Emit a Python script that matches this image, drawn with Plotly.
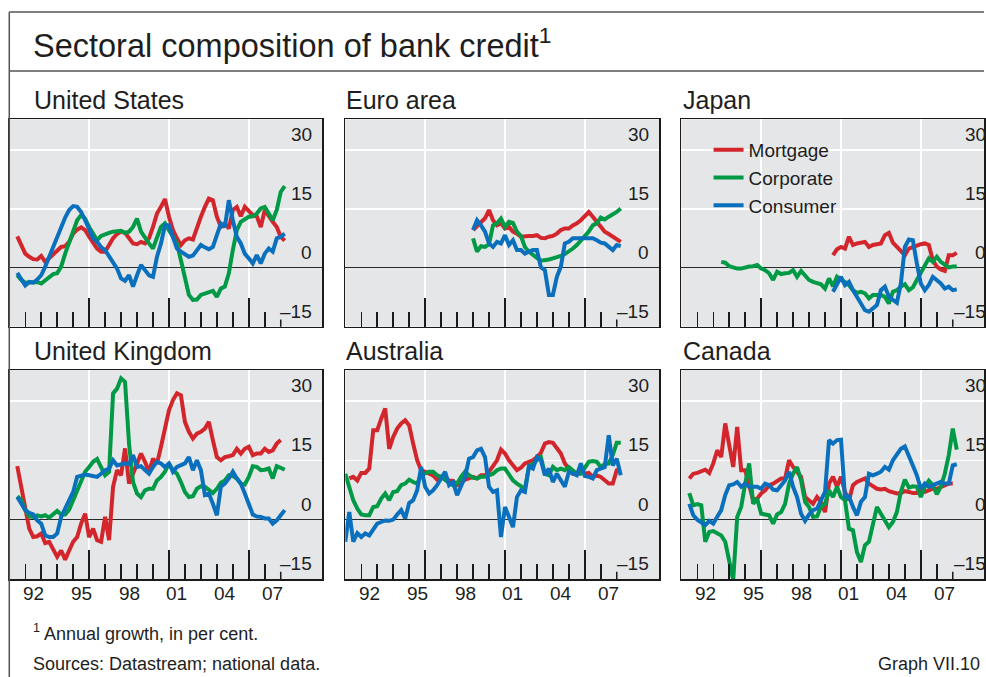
import plotly.graph_objects as go

# ---------------- data (annual growth, %; quarterly observations) ----------------
us_mortgage_start = "1991Q3"
us_mortgage = [8.0, 5.8, 3.6, 2.8, 2.2, 2.1, 3.0, 1.5, 2.4, 3.6, 4.5, 5.3, 5.5, 6.6, 8.7, 9.7, 10.3, 9.6,
               7.9, 6.4, 4.9, 4.1, 4.1, 5.8, 7.5, 8.6, 9.2, 8.9, 7.5, 6.2, 6.0, 6.6, 6.2, 7.5, 10.4, 13.8,
               15.5, 17.5, 13.0, 9.6, 7.5, 5.8, 7.0, 7.5, 7.2, 10.4, 13.0, 15.5, 17.6, 17.2, 13.0, 10.4,
               11.3, 10.0, 14.7, 15.5, 13.1, 15.5, 14.5, 13.4, 13.1, 10.4, 14.7, 13.0, 11.7, 10.4, 7.9, 6.9]
us_corporate_start = "1991Q3"
us_corporate = [-1.9, -3.1, -3.8, -3.8, -3.6, -3.6, -4.0, -3.1, -2.3, -1.6, -1.4, 0.3, 3.6, 6.6, 9.6, 12.1,
                13.4, 12.5, 10.4, 8.7, 7.0, 8.1, 8.6, 8.9, 9.2, 9.2, 9.4, 8.9, 9.2, 10.4, 12.5, 9.2, 7.5,
                6.2, 4.9, 7.5, 10.4, 11.3, 9.6, 7.9, 6.2, 1.9, -3.1, -6.9, -8.2, -8.1, -6.9, -6.5, -6.1,
                -5.9, -7.4, -5.3, -4.8, -1.4, 4.5, 9.6, 11.7, 12.5, 13.0, 13.1, 13.8, 15.1, 15.5, 13.8,
                12.1, 14.7, 19.3, 20.8]
us_consumer_start = "1991Q3"
us_consumer = [-1.3, -2.7, -4.5, -3.6, -3.8, -3.0, -1.9, 0.3, 2.8, 5.3, 8.3, 10.4, 12.8, 14.7, 15.7, 15.5,
               14.2, 12.1, 10.0, 7.5, 6.6, 5.3, 4.5, 2.8, 1.5, -0.2, -2.7, -3.3, -1.9, -4.8, -1.9, 0.7,
               -0.6, -1.9, -2.3, 2.8, 6.2, 10.8, 10.8, 7.5, 4.9, 4.1, 3.5, 2.8, 3.1, 4.5, 5.8, 5.2, 4.7,
               5.3, 8.3, 11.3, 10.4, 17.2, 12.1, 7.9, 6.2, 3.6, 2.4, 1.1, 3.2, 1.1, 3.6, 4.9, 4.1, 7.5,
               7.9, 8.7]

ea_start = "1999Q1"
ea_mortgage = [9.6, 10.5, 11.5, 12.6, 14.7, 12.1, 10.8, 11.3, 10.0, 10.4, 9.2, 8.7, 7.9, 8.1, 8.1, 8.1,
               8.3, 7.6, 7.5, 7.9, 8.1, 8.7, 9.6, 10.0, 10.0, 10.8, 11.3, 12.1, 13.1, 14.2, 13.0, 11.7,
               10.4, 9.2, 8.6, 7.9, 7.2, 6.6]
ea_corporate = [7.5, 4.1, 5.5, 5.3, 6.0, 10.8, 11.3, 12.5, 10.4, 11.7, 11.4, 9.2, 8.1, 5.3, 4.1, 3.2,
                2.5, 1.8, 1.9, 2.1, 2.4, 2.6, 3.0, 3.5, 4.1, 4.9, 5.8, 6.9, 7.9, 9.2, 10.8, 11.3, 12.8,
                12.3, 13.0, 13.6, 14.2, 15.1]
ea_consumer = [9.6, 12.1, 10.8, 9.2, 6.2, 5.3, 6.6, 6.2, 8.3, 5.8, 7.0, 4.5, 4.5, 3.6, 4.1, 4.5, 4.5,
               0.1, -0.6, -6.9, -6.9, -2.3, 0.3, 6.2, 6.6, 7.5, 7.5, 7.5, 7.5, 7.6, 7.5, 7.0, 6.4, 6.2,
               5.2, 4.5, 5.8, 5.5]

jp_mortgage_start = "2000Q3"
jp_mortgage = [3.2, 4.7, 5.3, 4.9, 7.9, 5.8, 6.2, 6.4, 6.6, 5.3, 5.8, 6.0, 6.2, 8.3, 8.9, 6.4, 5.3, 4.1,
               3.2, 4.9, 5.3, 5.8, 6.0, 6.2, 5.8, 1.9, 0.3, -0.4, -0.8, 3.2, 3.2, 3.8]
jp_corporate_start = "1993Q3"
jp_corporate = [1.5, 1.3, 0.4, 0.0, -0.2, -0.2, 0.1, 0.3, 0.4, 0.7, -0.2, -0.6, -1.4, -3.1, -1.0, -1.6,
                -1.4, -1.3, -0.6, -2.3, -0.8, -1.9, -3.1, -3.6, -4.0, -4.2, -5.3, -2.7, -4.7, -2.3, -3.1,
                -3.6, -4.4, -5.7, -6.4, -6.1, -6.5, -7.8, -6.9, -6.9, -6.9, -7.4, -9.1, -6.1, -5.7, -4.8,
                -4.2, -5.7, -5.0, -3.1, -1.4, 0.7, 2.4, 1.5, 2.8, 1.5, 0.9, 0.1, 0.3, 0.3]
jp_consumer_start = "2000Q3"
jp_consumer = [-6.1, -4.0, -2.3, -4.4, -3.6, -5.7, -7.4, -9.1, -10.8, -11.2, -10.3, -9.5, -5.7, -4.8,
               -7.4, -8.2, -8.9, -4.0, 5.3, 7.2, 7.0, 1.1, -4.0, -5.7, -4.4, -2.3, -3.1, -4.0, -5.3, -4.8,
               -5.7, -5.5]

uk_start = "1991Q3"
uk_mortgage = [13.5, 8.3, 2.4, -2.3, -4.4, -4.2, -3.5, -5.9, -5.6, -7.3, -9.4, -7.8, -10.1, -7.8, -5.6,
               -4.4, -1.0, 1.5, -4.4, -2.3, -5.2, -5.6, 0.7, -5.2, 8.3, 12.5, 11.2, 18.0, 9.1, 11.6, 14.2,
               16.7, 14.6, 12.1, 15.4, 14.2, 18.4, 22.6, 27.6, 30.2, 31.9, 31.4, 24.7, 22.2, 20.5, 21.7,
               22.2, 23.0, 24.7, 20.1, 15.8, 15.0, 15.8, 16.0, 16.3, 17.9, 16.7, 17.9, 18.4, 16.3, 16.7,
               16.7, 17.9, 17.1, 17.5, 19.2, 20.1]
uk_corporate = [5.9, 4.9, 2.4, 0.8, 0.7, 1.1, 0.8, 1.1, 0.5, 1.5, 2.2, 1.3, 1.3, 2.5, 4.9, 7.0, 9.5,
                12.1, 13.3, 14.6, 15.3, 13.3, 11.2, 12.1, 31.9, 33.1, 35.7, 34.8, 19.2, 9.5, 6.6, 5.7,
                7.4, 7.8, 7.8, 9.9, 10.8, 12.1, 14.2, 12.5, 11.6, 9.5, 7.0, 5.7, 5.9, 7.8, 8.4, 8.3, 7.4,
                6.7, 7.8, 9.3, 9.9, 11.2, 11.0, 10.4, 9.1, 8.9, 10.8, 13.5, 13.3, 12.5, 12.6, 12.9, 10.4,
                13.5, 13.1, 12.6]
uk_consumer = [5.7, 4.0, 2.4, 1.7, 1.3, -0.2, -1.0, -4.0, -4.4, -4.4, -3.5, 0.7, 2.8, 4.5, 7.0, 10.8,
               11.2, 11.4, 11.2, 11.0, 10.8, 11.6, 12.5, 12.9, 15.0, 13.7, 14.0, 14.2, 14.0, 16.3, 13.3,
               13.5, 12.5, 11.6, 13.3, 14.6, 14.2, 13.3, 14.2, 12.1, 13.3, 13.7, 14.2, 15.8, 12.5, 15.0,
               12.5, 6.2, 6.6, 4.0, 1.1, 8.3, 9.1, 10.4, 12.1, 10.4, 9.1, 6.6, 4.0, 1.3, 0.8, 0.7, 0.3,
               0.3, -1.0, -0.2, 1.1, 2.4]

au_mortgage_start = "1991Q2"
au_mortgage = [10.4, 10.8, 9.9, 11.8, 11.8, 12.9, 22.6, 22.6, 25.5, 28.1, 17.9, 20.9, 23.0, 24.3, 25.1,
               23.8, 19.2, 15.0, 12.5, 12.1, 11.6, 11.2, 10.1, 10.8, 10.4, 9.9, 9.8, 8.7, 9.3, 10.1,
               10.4, 10.8, 10.4, 11.2, 11.2, 12.1, 13.5, 15.0, 17.7, 16.7, 15.0, 13.7, 12.5, 13.1, 14.2,
               14.6, 15.0, 15.8, 16.9, 19.2, 19.6, 19.4, 18.2, 16.7, 14.2, 12.9, 11.6, 11.8, 12.5, 11.6,
               11.8, 10.8, 11.2, 10.8, 9.9, 9.1, 9.1, 12.5, 12.9]
au_start = "1991Q1"
au_corporate = [11.6, 8.3, 4.9, 2.8, 1.3, 1.1, 1.1, 3.2, 3.4, 5.3, 6.6, 4.9, 7.0, 7.2, 8.7, 9.1, 10.1,
                9.5, 9.1, 11.2, 11.6, 12.1, 12.1, 11.2, 10.8, 9.9, 9.3, 8.7, 9.1, 10.8, 12.1, 11.2, 10.6,
                10.4, 10.8, 10.8, 11.2, 11.6, 12.5, 12.9, 12.9, 11.2, 9.9, 9.1, 8.3, 7.8, 13.3, 14.2,
                15.0, 15.8, 11.6, 11.2, 13.3, 12.5, 12.9, 12.5, 13.3, 12.5, 11.6, 11.6, 13.3, 14.6, 14.8,
                14.6, 13.3, 14.0, 14.2, 16.3, 19.4, 19.4]
au_consumer = [-5.6, 1.9, -5.6, -3.4, -4.4, -3.5, -4.0, -2.7, -1.0, -0.6, -0.2, -0.3, 0.0, 1.3, 2.4, 0.3,
               4.2, 4.9, 7.4, 13.3, 8.3, 6.6, 7.4, 8.7, 10.4, 12.1, 8.7, 9.5, 6.2, 8.7, 10.8, 15.4, 15.8,
               17.5, 17.9, 15.8, 8.3, 7.0, 7.4, -4.4, 3.2, 0.7, -1.9, 5.7, 7.4, 7.0, 13.5, 12.9, 15.8,
               15.0, 11.2, 12.9, 9.5, 11.6, 9.9, 8.3, 12.1, 11.6, 11.2, 14.2, 11.0, 10.8, 10.4, 12.5,
               12.9, 13.3, 21.3, 13.7, 15.4, 11.2]

ca_start = "1991Q3"
ca_mortgage = [10.4, 11.6, 11.8, 12.3, 12.6, 11.8, 14.2, 17.5, 15.8, 24.3, 19.2, 13.3, 23.4, 12.5, 12.5,
               8.7, 4.9, 5.3, 6.6, 7.4, 8.7, 9.1, 9.9, 10.4, 10.4, 15.0, 13.3, 12.1, 10.8, 5.7, 4.9, 4.0,
               5.7, 4.5, 1.9, 9.1, 10.8, 8.3, 10.8, 7.0, 4.9, 8.7, 9.5, 9.9, 10.4, 9.1, 8.3, 7.8, 7.6,
               7.8, 7.2, 7.0, 6.6, 6.7, 7.2, 7.0, 6.7, 6.7, 7.2, 7.0, 7.4, 7.8, 7.8, 8.3, 8.7, 9.1, 9.1]
ca_corporate = [6.7, 3.6, 3.9, 3.6, -5.6, -3.1, -2.9, -3.5, -4.0, -5.6, -10.3, -15.3, 0.7, 3.2, 9.1,
                14.2, 4.0, 5.3, 1.5, 1.3, 1.1, -1.0, 1.3, 1.9, 4.0, 9.1, 11.6, 13.3, 9.9, 4.5, 3.2, 0.7,
                0.8, 3.2, 4.0, 7.4, 5.7, 8.3, 5.7, 4.9, -2.3, -2.7, -8.2, -10.7, -6.5, -5.6, -1.4, 3.2,
                1.5, -0.2, -1.9, -0.6, 1.9, 7.0, 10.1, 8.1, 8.4, 8.3, 5.7, 8.3, 9.8, 8.7, 6.4, 8.3, 11.6,
                16.3, 23.0, 17.7]
ca_consumer = [4.0, 1.1, 0.0, -0.6, -1.4, -0.3, -1.0, 0.7, 2.4, 6.2, 8.7, 8.9, 9.5, 8.3, 9.1, 8.3, 8.4,
               8.3, 7.8, 9.1, 8.7, 7.6, 7.4, 8.7, 9.9, 12.1, 8.3, 5.7, 1.5, -0.3, 1.3, 2.4, 2.8, 4.9, 7.0,
               20.1, 19.2, 20.1, 20.2, 5.7, 5.9, 3.2, 1.1, 4.5, 5.7, 11.6, 11.2, 11.6, 12.1, 13.3, 12.6,
               15.0, 16.3, 17.9, 18.5, 15.8, 13.7, 11.2, 7.8, 9.1, 8.3, 8.7, 9.1, 9.5, 9.1, 9.1, 13.7,
               14.0]

panel_titles = ["United States", "Euro area", "Japan", "United Kingdom", "Australia", "Canada"]
series_names = ["Mortgage", "Corporate", "Consumer"]
x_tick_years = [1992, 1995, 1998, 2001, 2004, 2007]
x_tick_text = ["92", "95", "98", "01", "04", "07"]
y_tick_vals = [30, 15, 0, -15]
y_tick_text = ["30", "15", "0", "–15"]

# ---------------- helpers ----------------
def quarterly_dates(start, n):
    yr, q = start.split("Q")
    base = int(yr) + (int(q) - 1) / 4
    return [base + i / 4 for i in range(n)]

panels = [
    [(us_mortgage_start, us_mortgage), (us_corporate_start, us_corporate), (us_consumer_start, us_consumer)],
    [(ea_start, ea_mortgage), (ea_start, ea_corporate), (ea_start, ea_consumer)],
    [(jp_mortgage_start, jp_mortgage), (jp_corporate_start, jp_corporate), (jp_consumer_start, jp_consumer)],
    [(uk_start, uk_mortgage), (uk_start, uk_corporate), (uk_start, uk_consumer)],
    [(au_mortgage_start, au_mortgage), (au_start, au_corporate), (au_start, au_consumer)],
    [(ca_start, ca_mortgage), (ca_start, ca_corporate), (ca_start, ca_consumer)],
]
colors = ["#d3252c", "#009a46", "#0a70bd"]

W, H = 986, 677
FONT = "Liberation Sans"
TXT = "#1e1e1e"
AX = "#1a1a1a"

def px_x(v):
    return v / W

def px_y(v):
    return 1 - v / H

col_px = [(9.3, 323.0), (346.0, 660.7), (682.7, 986.0)]
title_px = [33, 346, 683]
row_px = [(119.3, 326.7), (370.0, 579.0)]
PX_PER_YEAR = 16.0
major_years = [1996, 2001, 2006]
minor_years = [y for y in range(1992, 2008) if y not in major_years]
last_tick_year = 2008

fig = go.Figure()
layout = dict(
    width=W, height=H, autosize=False,
    margin=dict(l=0, r=0, t=0, b=0),
    paper_bgcolor="white", plot_bgcolor="#e5e6e7",
    font=dict(family=FONT, color=TXT, size=18),
    showlegend=True,
    legend=dict(x=px_x(710), y=px_y(131), xanchor="left", yanchor="top",
                bgcolor="rgba(0,0,0,0)", font=dict(size=19, family=FONT, color=TXT),
                tracegroupgap=0, itemwidth=30),
)

annotations = []
shapes = []
for i, series in enumerate(panels):
    r, c = divmod(i, 3)
    idx = i + 1
    xname = "xaxis" if idx == 1 else f"xaxis{idx}"
    yname = "yaxis" if idx == 1 else f"yaxis{idx}"
    xref = "x" if idx == 1 else f"x{idx}"
    yref = "y" if idx == 1 else f"y{idx}"
    x0p, x1p = col_px[c]
    y0p, y1p = row_px[r]
    x_end = 1991 + (x1p - x0p) / PX_PER_YEAR
    layout[xname] = dict(
        domain=[px_x(x0p), min(1.0, px_x(x1p))], anchor=yref, range=[1991, x_end],
        showline=True, mirror=True, linecolor=AX, linewidth=1.5,
        tickmode="array", tickvals=major_years, ticks="inside", ticklen=29,
        tickwidth=1.5, tickcolor=AX, showticklabels=False,
        showgrid=True, gridcolor="white", gridwidth=1.5, zeroline=False,
        minor=dict(tickmode="array", tickvals=minor_years,
                   ticks="inside", ticklen=15, tickwidth=1.5, tickcolor=AX, showgrid=False),
    )
    layout[yname] = dict(
        domain=[px_y(y1p), px_y(y0p)], anchor=xref, range=[-15, 37.8],
        showline=True, mirror=True, linecolor=AX, linewidth=1.5,
        tickmode="array", tickvals=[15, 30], ticks="", showticklabels=False,
        showgrid=True, gridcolor="white", gridwidth=1.5,
        zeroline=True, zerolinecolor="#2a2a2a", zerolinewidth=1.2,
    )
    for s, (start, vals) in enumerate(series):
        fig.add_trace(go.Scatter(
            x=quarterly_dates(start, len(vals)), y=vals, mode="lines",
            name=series_names[s], legendgroup=series_names[s], showlegend=(i == 0),
            line=dict(color=colors[s], width=4), xaxis=xref, yaxis=yref,
            hoverinfo="skip",
        ))
    # short tick marking the last (partial) year
    shapes.append(dict(type="line", xref=xref, yref=f"{yref} domain", x0=last_tick_year, x1=last_tick_year,
                       y0=0, y1=0.035, line=dict(color=AX, width=1.5)))
    # panel title
    annotations.append(dict(text=panel_titles[i], xref="paper", yref="paper",
                            x=px_x(title_px[c] - 1), y=px_y(y0p - 19), xanchor="left", yanchor="middle",
                            showarrow=False, font=dict(size=25, family=FONT, color=TXT)))
    # right-hand value labels
    xs = -8 if c < 2 else 4
    for v, t in zip(y_tick_vals, y_tick_text):
        annotations.append(dict(text=t, xref=f"{xref} domain", yref=yref, x=1, y=v,
                                xanchor="right", yanchor="bottom", xshift=xs, yshift=3,
                                showarrow=False, font=dict(size=19, family=FONT, color=TXT)))
    # year labels on bottom row
    if r == 1:
        for yv, t in zip(x_tick_years, x_tick_text):
            annotations.append(dict(text=t, xref=xref, yref=f"{yref} domain", x=yv + 0.5, y=0,
                                    xanchor="center", yanchor="top", yshift=-2,
                                    showarrow=False, font=dict(size=19, family=FONT, color=TXT)))

# title and notes
annotations.append(dict(text="Sectoral composition of bank credit<sup>1</sup>", xref="paper", yref="paper",
                        x=px_x(31), y=px_y(43), xanchor="left", yanchor="middle", showarrow=False,
                        font=dict(size=32.5, family=FONT, color=TXT)))
annotations.append(dict(text="<sup>1</sup> Annual growth, in per cent.", xref="paper", yref="paper",
                        x=px_x(31), y=px_y(632), xanchor="left", yanchor="middle", showarrow=False,
                        font=dict(size=18, family=FONT, color=TXT)))
annotations.append(dict(text="Sources: Datastream; national data.", xref="paper", yref="paper",
                        x=px_x(31), y=px_y(664), xanchor="left", yanchor="middle", showarrow=False,
                        font=dict(size=18, family=FONT, color=TXT)))
annotations.append(dict(text="Graph VII.10", xref="paper", yref="paper",
                        x=px_x(984), y=px_y(664), xanchor="right", yanchor="middle", showarrow=False,
                        font=dict(size=18, family=FONT, color=TXT)))
layout["annotations"] = annotations

frame = dict(color="#555555", width=1.5)
shapes += [
    dict(type="line", xref="paper", yref="paper", x0=px_x(9.3), x1=1, y0=px_y(12), y1=px_y(12), line=frame),
    dict(type="line", xref="paper", yref="paper", x0=px_x(9.3), x1=1, y0=px_y(71), y1=px_y(71), line=frame),
    dict(type="line", xref="paper", yref="paper", x0=px_x(9.3), x1=px_x(9.3), y0=0, y1=px_y(12), line=frame),
]
layout["shapes"] = shapes

fig.update_layout(**layout)
# remove the default page margin so the 986x677 figure fills the window exactly
fig.write_html(
    "out.html",
    config={"displayModeBar": False, "staticPlot": True},
    post_script="document.body.style.margin='0';document.documentElement.style.overflow='hidden';",
)
